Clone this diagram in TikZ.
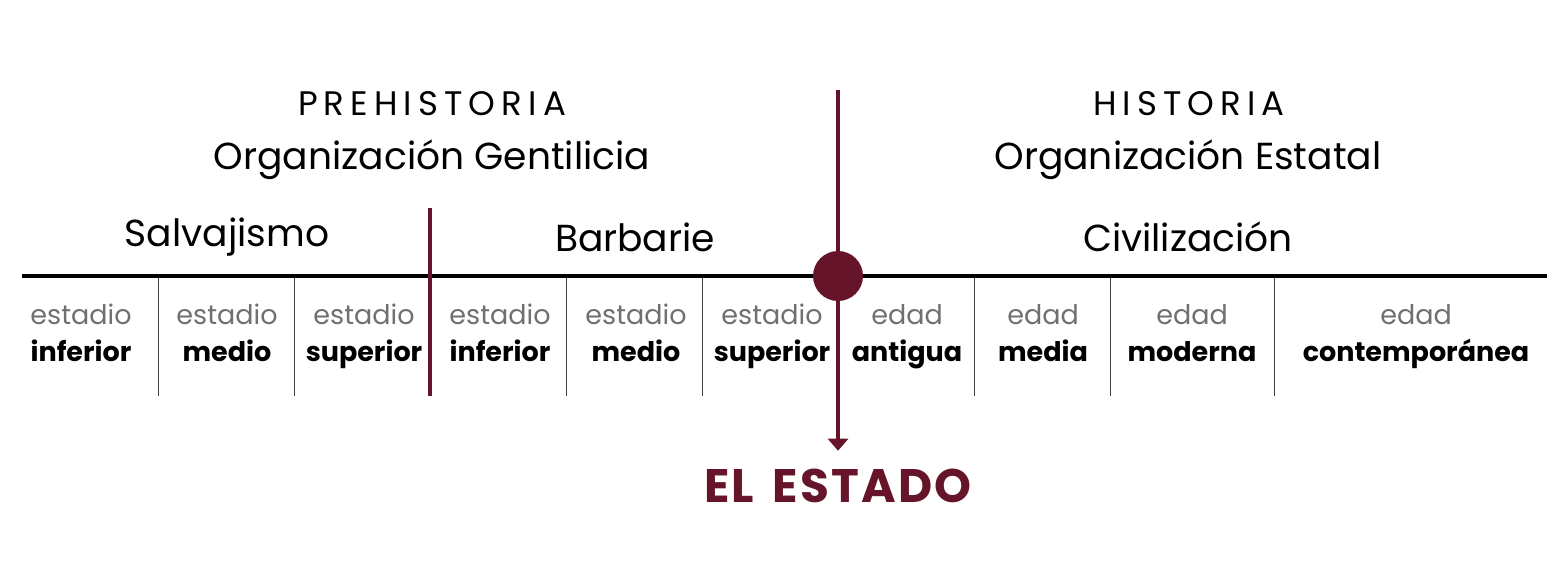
\documentclass[tikz,border=0pt]{standalone}
\usepackage{fontspec}
\setmainfont{Poppins}
\newfontfamily\spacedfont[LetterSpace=18]{Poppins}
\newfontfamily\titlefont[LetterSpace=5]{Poppins}
\usepackage{xcolor}
\definecolor{maroon}{RGB}{102, 20, 42}
\definecolor{stagegray}{RGB}{112, 112, 112}
\usepackage{tikz}
\usetikzlibrary{arrows.meta, positioning}

\begin{document}
\begin{tikzpicture}[
    x=0.5pt, y=-0.5pt,
    >={Triangle[length=6pt, width=10pt]},
    every text node part/.style={align=center},
    era/.style={font=\fontsize{17}{20}\spacedfont, inner sep=0pt},
    org/.style={font=\fontsize{18.8}{22}\selectfont, inner sep=0pt},
    period/.style={font=\fontsize{18.8}{22}\selectfont, inner sep=0pt},
    stage/.style={font=\fontsize{13.5}{18.5}\selectfont, inner sep=0pt},
    sep/.style={draw=black!75, line width=0.5pt},
    bigsep/.style={draw=maroon, line width=1.6pt},
    axis/.style={draw=black, line width=1.6pt}
]
\useasboundingbox (0,0) rectangle (1567,568);

% ==================== HEADINGS ====================
\node[era] (prehist) at (432, 104) {PREHISTORIA};
\node[org] (gentil) at (432, 160) {Organización Gentilicia};
\node[era] (hist) at (1189, 104) {HISTORIA};
\node[org] (estatal) at (1188, 160) {Organización Estatal};

% ==================== PERIODS ====================
\node[period] (salv) at (227, 237) {Salvajismo};
\node[period] (barb) at (635, 237) {Barbarie};
\node[period] (civ) at (1188, 237) {Civilización};

% ==================== TIME LINE ====================
\coordinate (axis_l) at (22, 276);
\coordinate (axis_r) at (1547, 276);
\draw[axis] (axis_l) -- (axis_r);

\foreach \x in {158, 294, 566, 702, 974, 1110, 1274}
    \draw[sep] (\x, 278) -- (\x, 396);

\coordinate (div_top) at (430, 208);
\coordinate (div_bot) at (430, 396);
\draw[bigsep] (div_top) -- (div_bot);

% ==================== STAGES ====================
\foreach \x/\name/\kind/\word in {
    81/s1/estadio/inferior, 227/s2/estadio/medio, 364/s3/estadio/superior,
    500/b1/estadio/inferior, 636/b2/estadio/medio, 772/b3/estadio/superior,
    907/c1/edad/antigua, 1043/c2/edad/media, 1192/c3/edad/moderna,
    1416/c4/edad/contemporánea}
    \node[stage, anchor=north] (\name) at (\x, 304) {\textcolor{stagegray}{\kind}\\\textbf{\word}};

% ==================== EL ESTADO ====================
\coordinate (state_top) at (838, 90);
\node[fill=maroon, circle, minimum size=25pt, inner sep=0pt] (dot) at (838, 276) {};
\node[font=\fontsize{23.5}{28}\bfseries\titlefont, text=maroon, inner sep=0pt] (estado) at (838, 486) {EL\hspace{9pt}ESTADO};
\draw[bigsep, ->] (state_top) -- ([yshift=9pt]estado.north);

\end{tikzpicture}
\end{document}
